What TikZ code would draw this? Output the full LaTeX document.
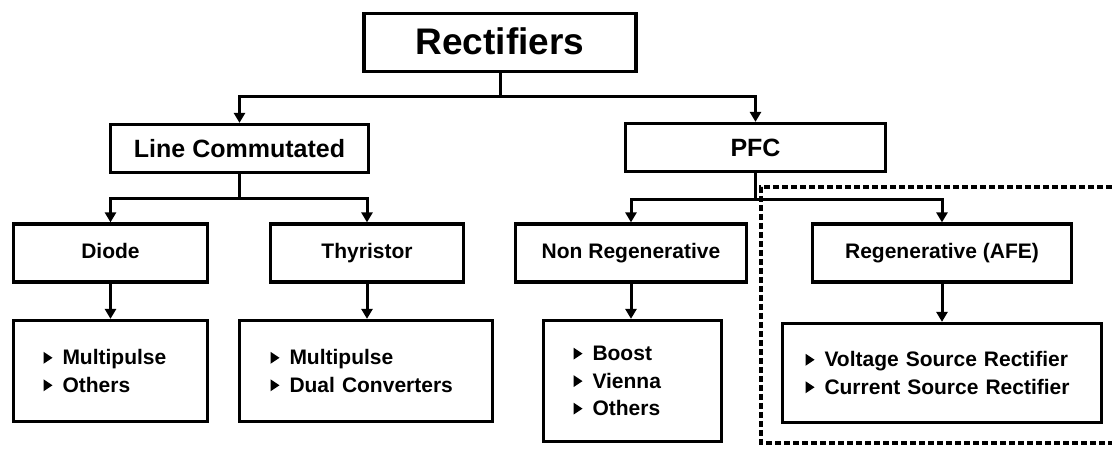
\documentclass[tikz,border=0pt]{standalone}
\usepackage{fontspec}
\setmainfont{Liberation Sans}
\usetikzlibrary{arrows.meta}
\newcommand{\bul}{\tikz[x=1pt,y=1pt,baseline=0pt]\fill[black] (0,1) -- (0,13) -- (9,7) -- cycle;\hspace{10pt}}
\tikzset{
  bx/.style={draw, line width=3.2pt, inner sep=0pt, text height=15pt, text depth=4.5pt, font=\bfseries\fontsize{21}{27}\selectfont},
  lvone/.style={bx, text height=18pt, text depth=0pt, font=\bfseries\fontsize{25}{28}\selectfont},
  lst/.style={draw, line width=3.2pt, inner sep=0pt, align=left, font=\bfseries\fontsize{21}{27.5}\selectfont},
  ln/.style={line width=3pt},
  ar/.style={line width=3pt, -{Triangle[length=10pt,width=11pt]}},
  dsh/.style={line width=4pt, dash pattern=on 6pt off 3pt}
}
\begin{document}
\begin{tikzpicture}[x=1pt,y=-1pt]
\useasboundingbox[fill=white] (0,0) rectangle (1112,454);
% top
\node[bx, minimum width=272pt, minimum height=58pt, text height=27pt, text depth=2pt, font=\bfseries\fontsize{37}{40}\selectfont] (R) at (500,42.5) {Rectifiers};
% level 1
\node[lvone, minimum width=258pt, minimum height=48pt] (LC) at (239.5,148.5) {Line Commutated};
\node[lvone, minimum width=260pt, minimum height=48pt] (PFC) at (755.5,147.5) {PFC};
% level 2
\node[bx, minimum width=194pt, minimum height=58pt] (D) at (110.5,253) {Diode};
\node[bx, minimum width=193pt, minimum height=58pt] (T) at (367,253) {Thyristor};
\node[bx, minimum width=231pt, minimum height=58pt] (NR) at (631,253) {Non Regenerative};
\node[bx, minimum width=259pt, minimum height=58pt] (RG) at (942,253) {Regenerative (AFE)};
% level 3
\node[lst, minimum width=194pt, minimum height=101pt, text width=134pt] (DL) at (110.5,371) {\bul Multipulse\\\bul Others};
\node[lst, minimum width=253pt, minimum height=101pt, text width=191pt] (TL) at (366,371) {\bul Multipulse\\\bul Dual Converters};
\node[lst, minimum width=178pt, minimum height=121pt, text width=118pt] (NL) at (632.5,381) {\bul Boost\\\bul Vienna\\\bul Others};
\node[lst, minimum width=319pt, minimum height=99pt, text width=273pt] (RL) at (942,373) {\bul Voltage Source Rectifier\\\bul Current Source Rectifier};
% connectors
\coordinate (j1) at (R.south |- 0,97);
\draw[ln] (R.south) -- (j1);
\draw[ar] (j1) -| (LC.north);
\draw[ar] (j1) -| (PFC.north);
\coordinate (j2) at (LC.south |- 0,199);
\draw[ln] (LC.south) -- (j2);
\draw[ar] (j2) -| (D.north);
\draw[ar] (j2) -| (T.north);
\coordinate (j3) at (PFC.south |- 0,200);
\draw[ln] (PFC.south) -- (j3);
\draw[ar] (j3) -| (NR.north);
\draw[ar] (j3) -| (RG.north);
\draw[ar] (D.south) -- (D.south |- DL.north);
\draw[ar] (T.south) -- (T.south |- TL.north);
\draw[ar] (NR.south) -- (NR.south |- NL.north);
\draw[ar] (RG.south) -- (RG.south |- RL.north);
% dashed region
\coordinate (d1) at (1112,187);
\coordinate (d2) at (761,187);
\coordinate (d3) at (761,443);
\coordinate (d4) at (1112,443);
\draw[dsh] (d1) -- (d2) -- (d3) -- (d4);
\end{tikzpicture}
\end{document}
